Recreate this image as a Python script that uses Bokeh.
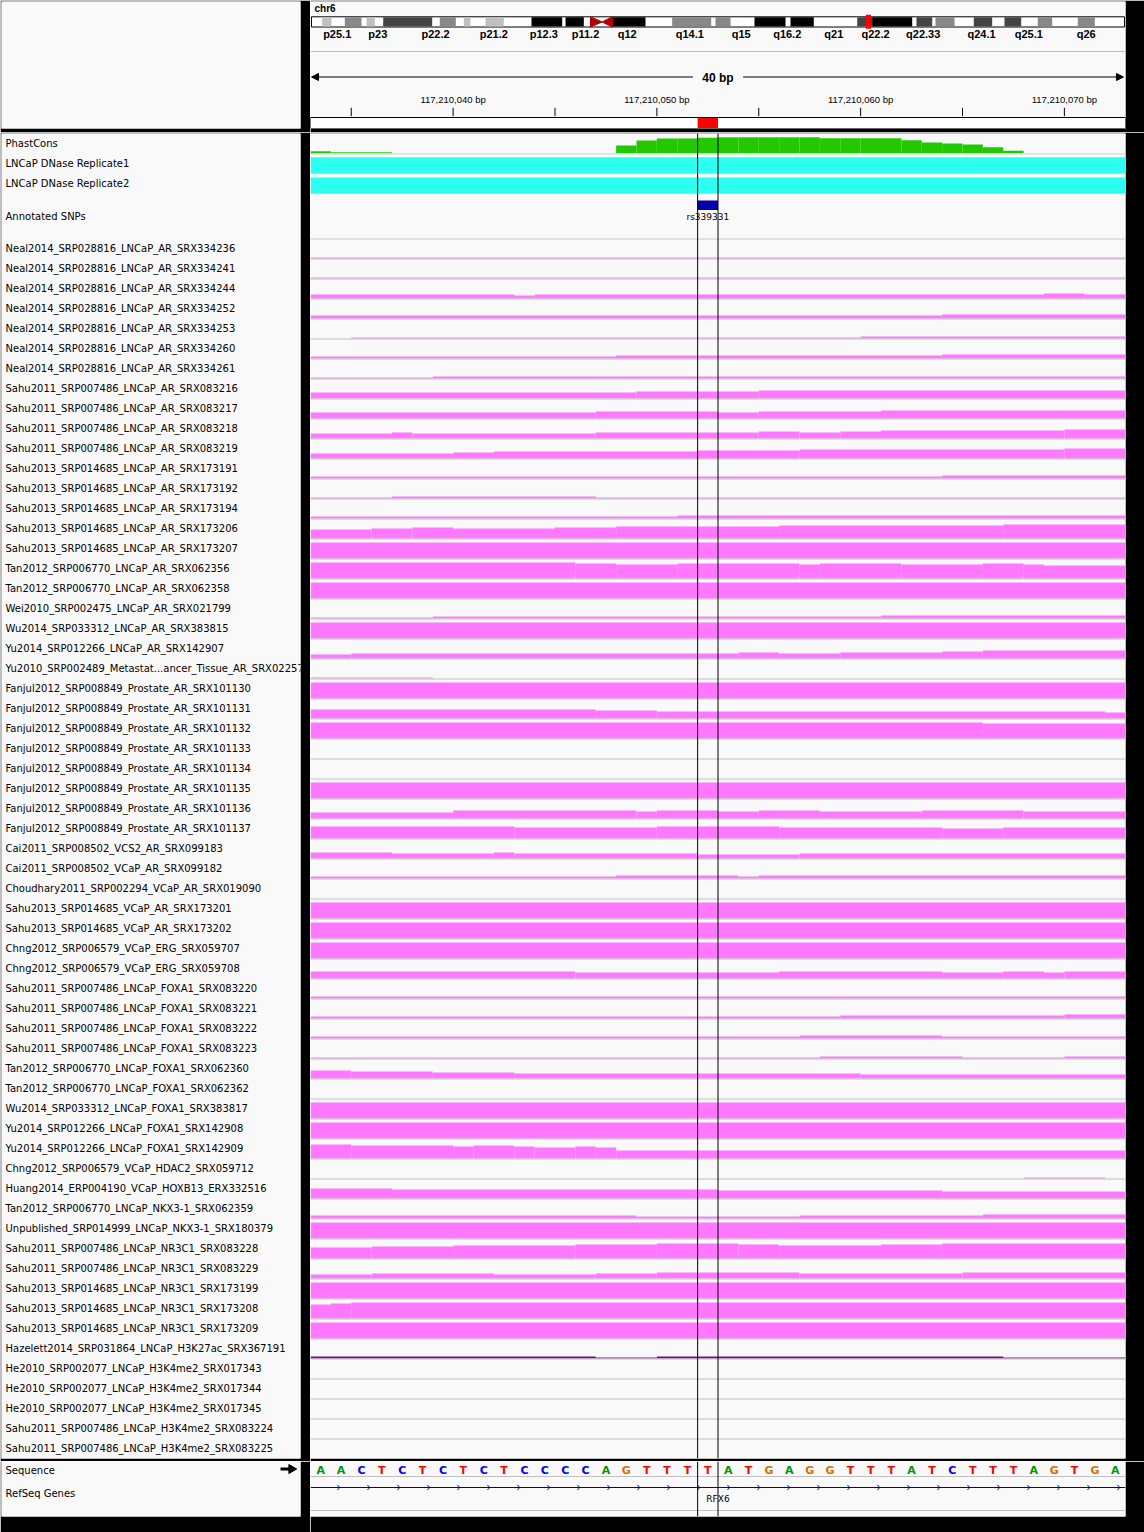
import numpy as np
from bokeh.plotting import figure
from bokeh.layouts import row, column
from bokeh.models import Range1d, Span, Arrow, NormalHead
from bokeh.core.properties import value
from bokeh.embed import file_html
from bokeh.resources import INLINE

# ---------------- data ----------------
CHROM = "chr6"
CHROM_LEN_MB = 171.1
VIEW_START = 117210033
VIEW_END = 117210073
ROI_START, ROI_END = 117210052, 117210053

sequence = "AACTCTCTCTCCCCAGTTTTATGAGGTTTATCTTTAGTGA"
base_colors = {"A": "#009600", "C": "#0000ff", "G": "#d17105", "T": "#ff0000"}

# ideogram bands (Mb)
band_start = [2.25, 7.01, 11.58, 15.09, 27.00, 32.05, 36.62, 46.30, 53.46, 63.29, 75.91, 85.02,
              93.23, 100.81, 114.85, 118.0, 127.32, 131.32, 139.38, 145.84, 152.85, 161.27]
band_end = [4.21, 10.52, 13.32, 25.40, 30.37, 33.46, 40.47, 52.76, 57.31, 70.29, 84.12, 88.18,
            99.76, 105.71, 118.0, 126.42, 130.63, 135.32, 143.25, 149.36, 155.88, 164.85]
band_stain = ["gpos25", "gpos50", "gpos25", "gpos75", "gpos50", "gpos25", "gpos25", "gpos100",
              "gpos100", "gpos100", "gpos50", "gpos50", "gpos100", "gpos100", "gpos75", "gpos100",
              "gpos75", "gpos50", "gpos75", "gpos75", "gpos50", "gpos50"]
centromere = (58.72, 61.18, 63.29)
band_label_names = ["p25.1", "p23", "p22.2", "p21.2", "p12.3", "p11.2", "q12", "q14.1", "q15",
                    "q16.2", "q21", "q22.2", "q22.33", "q24.1", "q25.1", "q26"]
band_label_mb = [5.41, 13.95, 26.10, 38.37, 48.89, 57.67, 66.44, 79.62, 90.44, 100.12, 109.93,
                 118.7, 128.74, 141.01, 150.96, 163.04]
locus_mb = 117.21

# PhastCons per-base score (40 bases)
phastcons = [0.12, 0.06, 0.06, 0.06, 0, 0, 0, 0, 0, 0, 0, 0, 0, 0, 0, 0.47, 0.77, 0.89, 0.89, 0.94,
             0.97, 0.97, 0.97, 0.97, 0.97, 0.91, 0.91, 0.91, 0.91, 0.79, 0.65, 0.59, 0.53, 0.36, 0.16,
             0, 0, 0, 0, 0]

dnase_rep1 = [(117209960, 117210190)]
dnase_rep2 = [(117209975, 117210180)]
snp_pos = [117210052]
snp_ids = ["rs339331"]

gene_name = "RFX6"
gene_start, gene_end = 117198376, 117253326

track_names = [
    "Neal2014_SRP028816_LNCaP_AR_SRX334236", "Neal2014_SRP028816_LNCaP_AR_SRX334241",
    "Neal2014_SRP028816_LNCaP_AR_SRX334244", "Neal2014_SRP028816_LNCaP_AR_SRX334252",
    "Neal2014_SRP028816_LNCaP_AR_SRX334253", "Neal2014_SRP028816_LNCaP_AR_SRX334260",
    "Neal2014_SRP028816_LNCaP_AR_SRX334261", "Sahu2011_SRP007486_LNCaP_AR_SRX083216",
    "Sahu2011_SRP007486_LNCaP_AR_SRX083217", "Sahu2011_SRP007486_LNCaP_AR_SRX083218",
    "Sahu2011_SRP007486_LNCaP_AR_SRX083219", "Sahu2013_SRP014685_LNCaP_AR_SRX173191",
    "Sahu2013_SRP014685_LNCaP_AR_SRX173192", "Sahu2013_SRP014685_LNCaP_AR_SRX173194",
    "Sahu2013_SRP014685_LNCaP_AR_SRX173206", "Sahu2013_SRP014685_LNCaP_AR_SRX173207",
    "Tan2012_SRP006770_LNCaP_AR_SRX062356", "Tan2012_SRP006770_LNCaP_AR_SRX062358",
    "Wei2010_SRP002475_LNCaP_AR_SRX021799", "Wu2014_SRP033312_LNCaP_AR_SRX383815",
    "Yu2014_SRP012266_LNCaP_AR_SRX142907", "Yu2010_SRP002489_Metastat...ancer_Tissue_AR_SRX02257",
    "Fanjul2012_SRP008849_Prostate_AR_SRX101130", "Fanjul2012_SRP008849_Prostate_AR_SRX101131",
    "Fanjul2012_SRP008849_Prostate_AR_SRX101132", "Fanjul2012_SRP008849_Prostate_AR_SRX101133",
    "Fanjul2012_SRP008849_Prostate_AR_SRX101134", "Fanjul2012_SRP008849_Prostate_AR_SRX101135",
    "Fanjul2012_SRP008849_Prostate_AR_SRX101136", "Fanjul2012_SRP008849_Prostate_AR_SRX101137",
    "Cai2011_SRP008502_VCS2_AR_SRX099183", "Cai2011_SRP008502_VCaP_AR_SRX099182",
    "Choudhary2011_SRP002294_VCaP_AR_SRX019090", "Sahu2013_SRP014685_VCaP_AR_SRX173201",
    "Sahu2013_SRP014685_VCaP_AR_SRX173202", "Chng2012_SRP006579_VCaP_ERG_SRX059707",
    "Chng2012_SRP006579_VCaP_ERG_SRX059708", "Sahu2011_SRP007486_LNCaP_FOXA1_SRX083220",
    "Sahu2011_SRP007486_LNCaP_FOXA1_SRX083221", "Sahu2011_SRP007486_LNCaP_FOXA1_SRX083222",
    "Sahu2011_SRP007486_LNCaP_FOXA1_SRX083223", "Tan2012_SRP006770_LNCaP_FOXA1_SRX062360",
    "Tan2012_SRP006770_LNCaP_FOXA1_SRX062362", "Wu2014_SRP033312_LNCaP_FOXA1_SRX383817",
    "Yu2014_SRP012266_LNCaP_FOXA1_SRX142908", "Yu2014_SRP012266_LNCaP_FOXA1_SRX142909",
    "Chng2012_SRP006579_VCaP_HDAC2_SRX059712", "Huang2014_ERP004190_VCaP_HOXB13_ERX332516",
    "Tan2012_SRP006770_LNCaP_NKX3-1_SRX062359", "Unpublished_SRP014999_LNCaP_NKX3-1_SRX180379",
    "Sahu2011_SRP007486_LNCaP_NR3C1_SRX083228", "Sahu2011_SRP007486_LNCaP_NR3C1_SRX083229",
    "Sahu2013_SRP014685_LNCaP_NR3C1_SRX173199", "Sahu2013_SRP014685_LNCaP_NR3C1_SRX173208",
    "Sahu2013_SRP014685_LNCaP_NR3C1_SRX173209", "Hazelett2014_SRP031864_LNCaP_H3K27ac_SRX367191",
    "He2010_SRP002077_LNCaP_H3K4me2_SRX017343", "He2010_SRP002077_LNCaP_H3K4me2_SRX017344",
    "He2010_SRP002077_LNCaP_H3K4me2_SRX017345", "Sahu2011_SRP007486_LNCaP_H3K4me2_SRX083224",
    "Sahu2011_SRP007486_LNCaP_H3K4me2_SRX083225",
]

# coverage signal as (base offset where value starts, value); data range 0..16 per track
track_steps = [
    [(0, 1)], [(0, 1)],
    [(0, 4), (10, 3), (11, 4), (36, 5), (38, 4)],
    [(0, 3), (31, 4)],
    [(0, 0), (2, 1), (27, 2)],
    [(0, 2), (15, 3), (31, 4)],
    [(0, 1), (6, 2)],
    [(0, 6), (16, 7), (22, 8)],
    [(0, 6), (14, 7), (20, 6), (22, 7), (28, 8)],
    [(0, 5), (4, 6), (5, 5), (14, 6), (22, 7), (24, 6), (26, 7), (28, 8), (37, 9)],
    [(0, 5), (7, 6), (9, 7), (19, 8), (24, 9), (37, 10)],
    [(0, 2), (31, 3)],
    [(0, 1), (4, 2), (14, 1)],
    [(0, 2), (18, 3)],
    [(0, 9), (3, 10), (5, 11), (7, 10), (12, 11), (15, 12), (23, 13), (34, 14)],
    [(0, 16)],
    [(0, 16), (13, 15), (15, 14), (18, 15), (24, 14), (25, 15), (29, 14), (33, 15), (35, 14), (36, 13)],
    [(0, 16)],
    [(0, 1), (6, 2), (28, 3)],
    [(0, 16)],
    [(0, 4), (2, 5), (21, 6), (23, 5), (26, 6), (31, 7), (33, 8)],
    [(0, 1), (6, 0)],
    [(0, 16)],
    [(0, 9), (14, 8), (17, 7), (39, 6)],
    [(0, 16), (33, 15)],
    [(0, 0)], [(0, 0)],
    [(0, 16)],
    [(0, 6), (7, 8), (16, 7), (17, 8), (20, 7), (22, 8), (25, 7), (30, 8), (35, 7)],
    [(0, 12), (10, 11), (17, 12), (23, 11), (31, 10), (34, 11)],
    [(0, 6), (4, 5), (9, 6), (10, 5), (19, 4), (24, 5)],
    [(0, 2), (15, 3), (21, 2), (22, 3)],
    [(0, 0)],
    [(0, 16)], [(0, 16)], [(0, 16)],
    [(0, 7), (13, 6), (23, 7), (31, 6), (34, 7), (36, 6), (37, 7)],
    [(0, 2)],
    [(0, 2), (26, 3), (37, 4)],
    [(0, 2), (24, 3), (31, 2)],
    [(0, 1), (25, 2), (32, 1), (37, 2)],
    [(0, 8), (2, 7), (6, 6), (10, 5), (27, 4)],
    [(0, 0)],
    [(0, 16)], [(0, 16)],
    [(0, 14), (2, 13), (7, 12), (8, 13), (10, 12), (11, 11), (13, 12), (14, 11), (15, 8)],
    [(0, 0), (35, 1), (39, 0)],
    [(0, 10), (4, 9), (20, 8), (31, 7)],
    [(0, 3), (16, 2), (24, 3), (33, 4)],
    [(0, 16)],
    [(0, 11), (3, 12), (7, 13), (13, 14), (17, 15), (21, 14), (23, 13), (28, 14), (31, 15)],
    [(0, 4), (3, 5), (9, 4), (14, 5), (17, 6), (24, 5), (32, 6)],
    [(0, 16)],
    [(0, 14), (1, 15), (2, 16)],
    [(0, 16)],
    [(0, 2), (14, 1), (17, 2), (34, 1)],
    [(0, 0)], [(0, 0)], [(0, 0)], [(0, 0)], [(0, 0)],
]

# ---------------- styles / layout ----------------
BG = "#f9f9f9"
PINK = "#ff78ff"
PURPLE = "#7d0a7d"
CYAN = "#2cfff0"
GREEN = "#22c800"
SEP = "#c0c0c0"
LAV = "#c8c8dc"
LABEL_FONT = value("DejaVu Sans")
BOLD_FONT = value("Liberation Sans")

N_BASES = VIEW_END - VIEW_START
TRACK_TOP = 238
ROW_H = 20
DATA_TOP, DATA_BOTTOM = 133, 1458


def panel(width, height, xr, yr, left, right, top, bottom, **kw):
    return figure(width=width, height=height, x_range=xr, y_range=yr, title=None,
                  output_backend="svg", toolbar_location=None,
                  x_axis_type=None, y_axis_type=None,
                  min_border_left=left, min_border_right=right,
                  min_border_top=top, min_border_bottom=bottom,
                  background_fill_color=BG, border_fill_color="black",
                  outline_line_color=None, **kw)


# ---------------- header ----------------
head_left = panel(310, 132, Range1d(1, 300), Range1d(128, 1), 1, 10, 1, 4)
head = panel(834, 132, Range1d(VIEW_START, VIEW_END), Range1d(128, 1), 0, 19, 1, 4)
head.extra_x_ranges = {"chrom": Range1d(-0.21, CHROM_LEN_MB + 0.21)}

head.text(x=[-0.21], y=[8], text=[CHROM], x_range_name="chrom", x_offset=4,
          text_font=BOLD_FONT, text_font_style="bold", text_font_size="10px",
          text_baseline="middle", text_align="left", text_color="black")
# ideogram
head.quad(left=[0], right=[CHROM_LEN_MB], top=[16.3], bottom=[26.5], x_range_name="chrom",
          fill_color="white", line_color="black", line_width=1)
stain_col = {"gpos25": "#c0c0c0", "gpos50": "#888888", "gpos75": "#444444", "gpos100": "#000000"}
head.quad(left=band_start, right=band_end, top=[16.8] * len(band_start), bottom=[26.0] * len(band_start),
          x_range_name="chrom", fill_color=[stain_col[s] for s in band_stain], line_color=None)
cp, cm, cq = centromere
head.patches(xs=[[cp, cp, cm], [cq, cq, cm]], ys=[[16.3, 26.5, 21.4], [16.3, 26.5, 21.4]],
             x_range_name="chrom", fill_color="#b40000", line_color="#b40000")
head.rect(x=[locus_mb], y=[21.2], width=5, height=14, width_units="screen",
          x_range_name="chrom", fill_color="#ff0000", line_color=None)
head.text(x=band_label_mb, y=[33] * len(band_label_mb), text=band_label_names, x_range_name="chrom",
          text_font=BOLD_FONT, text_font_style="bold", text_font_size="11px",
          text_align="center", text_baseline="middle", text_color="black")
head.add_layout(Span(location=51, dimension="width", line_color=SEP, line_width=1))

# ruler
mid = (VIEW_START + VIEW_END) / 2
head.text(x=[mid], y=[77], text=[f"{N_BASES} bp"], text_font=BOLD_FONT, text_font_style="bold",
          text_font_size="12px", text_align="center", text_baseline="middle", text_color="black")
head.add_layout(Arrow(x_start=mid - 1.23, y_start=76.5, x_end=VIEW_START + 0.05, y_end=76.5,
                      line_color="black", line_width=1,
                      end=NormalHead(size=7, fill_color="black", line_color="black")))
head.add_layout(Arrow(x_start=mid + 1.23, y_start=76.5, x_end=VIEW_END - 0.1, y_end=76.5,
                      line_color="black", line_width=1,
                      end=NormalHead(size=7, fill_color="black", line_color="black")))
ticks = np.arange(VIEW_START + 2, VIEW_END, 5)
head.segment(x0=ticks, y0=[107.3] * len(ticks), x1=ticks, y1=[115.7] * len(ticks),
             line_color="black", line_width=1)
lab_ticks = [t for t in ticks if t % 10 == 0]
head.text(x=lab_ticks, y=[98.5] * len(lab_ticks), text=[f"{t:,} bp" for t in lab_ticks],
          text_font=BOLD_FONT, text_font_size="9.5px", text_align="center",
          text_baseline="middle", text_color="black")
head.quad(left=[VIEW_START], right=[VIEW_END], top=[117], bottom=[128], fill_color="white",
          line_color="black", line_width=1)
head.quad(left=[ROI_START], right=[ROI_END], top=[117.5], bottom=[127.5], fill_color="#ff0000",
          line_color=None)

# ---------------- data panel ----------------
names = panel(310, 1329, Range1d(1, 300), Range1d(DATA_BOTTOM, DATA_TOP), 1, 10, 1, 3)
data = panel(834, 1329, Range1d(VIEW_START, VIEW_END), Range1d(DATA_BOTTOM, DATA_TOP), 0, 19, 1, 3)

fixed_labels = ["PhastCons", "LNCaP DNase Replicate1", "LNCaP DNase Replicate2", "Annotated SNPs"]
fixed_y = [143, 163, 183, 215.5]
row_mid = [TRACK_TOP + ROW_H * k + ROW_H / 2 for k in range(len(track_names))]
names.text(x=[5] * (len(fixed_labels) + len(track_names)), y=fixed_y + row_mid,
           text=fixed_labels + track_names, text_font=LABEL_FONT, text_font_size="10px",
           text_align="left", text_baseline="middle", text_color="black")

# phastcons
ph_idx = [i for i, v in enumerate(phastcons) if v > 0]
data.quad(left=[VIEW_START + i for i in ph_idx], right=[VIEW_START + i + 1 for i in ph_idx],
          bottom=[152.8] * len(ph_idx), top=[152.8 - 16.5 * phastcons[i] for i in ph_idx],
          fill_color=GREEN, line_color=None)
data.add_layout(Span(location=153.5, dimension="width", line_color=LAV, line_width=1))

# DNase features
for feats, (t, b) in [(dnase_rep1, (156.7, 173.3)), (dnase_rep2, (176.9, 193.3))]:
    data.quad(left=[max(s, VIEW_START) for s, e in feats], right=[min(e, VIEW_END) for s, e in feats],
              top=[t] * len(feats), bottom=[b] * len(feats), fill_color=CYAN, line_color=None)

# SNPs
data.quad(left=snp_pos, right=[s + 1 for s in snp_pos], top=[200] * len(snp_pos),
          bottom=[209.5] * len(snp_pos), fill_color="#0000a8", line_color=None)
data.text(x=[s + 0.5 for s in snp_pos], y=[216.5] * len(snp_pos), text=snp_ids,
          text_font=LABEL_FONT, text_font_size="9px", text_align="center",
          text_baseline="middle", text_color="black")
data.add_layout(Span(location=238.5, dimension="width", line_color=LAV, line_width=1))

# coverage tracks
L, R, T, B, C = [], [], [], [], []
for k, (name, steps) in enumerate(zip(track_names, track_steps)):
    base = TRACK_TOP + ROW_H * (k + 1)
    col = PURPLE if "H3K27ac" in name else PINK
    for j, (s, h) in enumerate(steps):
        e = steps[j + 1][0] if j + 1 < len(steps) else N_BASES
        if h <= 0:
            continue
        L.append(VIEW_START + s)
        R.append(VIEW_START + e)
        B.append(base)
        T.append(base - h)
        C.append(col)
data.quad(left=L, right=R, top=T, bottom=B, fill_color=C, line_color=None)
for k in range(len(track_names)):
    data.add_layout(Span(location=TRACK_TOP + ROW_H * (k + 1) + 0.5, dimension="width",
                         line_color=SEP, line_width=1))

for loc in (ROI_START, ROI_END):
    data.add_layout(Span(location=loc, dimension="height", line_color="black", line_width=1))

# ---------------- bottom panel ----------------
bot_left = panel(310, 71, Range1d(1, 300), Range1d(1516, 1461), 1, 10, 0, 16)
bot = panel(834, 71, Range1d(VIEW_START, VIEW_END), Range1d(1516, 1461), 0, 19, 0, 16)

bot_left.text(x=[5, 5], y=[1470, 1493], text=["Sequence", "RefSeq Genes"], text_font=LABEL_FONT,
              text_font_size="10px", text_align="left", text_baseline="middle", text_color="black")
bot_left.segment(x0=[280], y0=[1468.5], x1=[290], y1=[1468.5], line_color="black", line_width=3)
bot_left.scatter(x=[291], y=[1468.5], marker="triangle", size=9, angle=-np.pi / 2,
                 fill_color="black", line_color="black")

bot.text(x=[VIEW_START + i + 0.5 for i in range(len(sequence))], y=[1470] * len(sequence),
         text=list(sequence), text_color=[base_colors[b] for b in sequence],
         text_font=LABEL_FONT, text_font_style="bold", text_font_size="11px",
         text_align="center", text_baseline="middle")
bot.add_layout(Span(location=1476, dimension="width", line_color=SEP, line_width=1))
bot.add_layout(Span(location=1510, dimension="width", line_color=SEP, line_width=1))
g0, g1 = max(gene_start, VIEW_START), min(gene_end, VIEW_END)
bot.segment(x0=[g0], y0=[1487], x1=[g1], y1=[1487], line_color="#0000b4", line_width=1)
chev = VIEW_START + 1.44 + 1.4724 * np.arange(27)
chev = chev[chev < g1]
bot.segment(x0=chev - 0.12, y0=[1484.5] * len(chev), x1=chev, y1=[1487] * len(chev),
            line_color="#0000b4", line_width=1)
bot.segment(x0=chev - 0.12, y0=[1489.5] * len(chev), x1=chev, y1=[1487] * len(chev),
            line_color="#0000b4", line_width=1)
bot.text(x=[(g0 + g1) / 2], y=[1498], text=[gene_name], text_font=LABEL_FONT, text_font_size="9px",
         text_align="center", text_baseline="middle", text_color="black")
for loc in (ROI_START, ROI_END):
    bot.add_layout(Span(location=loc, dimension="height", line_color="black", line_width=1))

layout = column(row(head_left, head), row(names, data), row(bot_left, bot))
open("out.html", "w").write(file_html(layout, INLINE))
